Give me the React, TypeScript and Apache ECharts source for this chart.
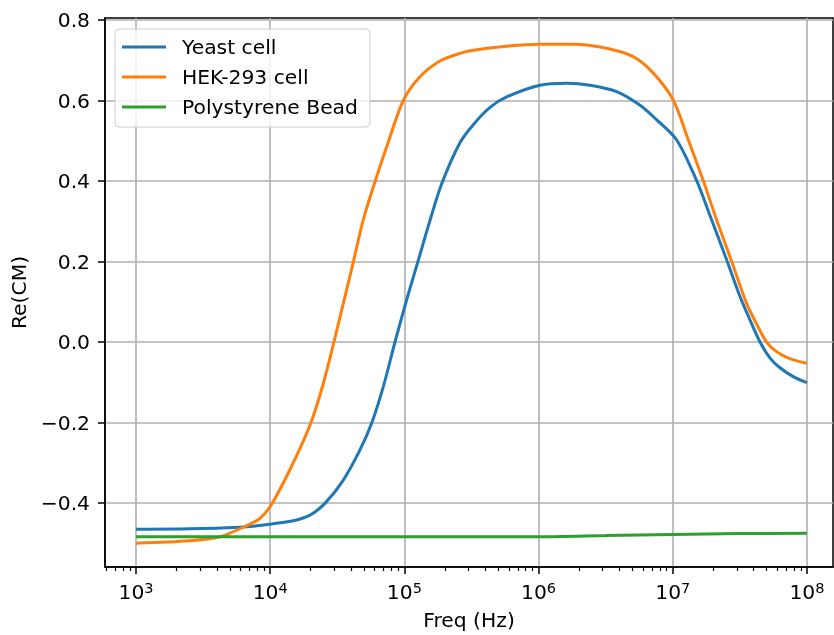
import React, { useEffect, useRef } from "react";
import * as echarts from "echarts";

// log10 of frequency (Hz) and Re(CM) values
const yeastLogF = [3.0, 3.402, 3.775, 3.924, 4.011, 4.172, 4.297, 4.408, 4.545, 4.669, 4.756, 4.843, 4.93, 5.017, 5.101, 5.189, 5.278, 5.414, 5.513, 5.638, 5.762, 6.01, 6.209, 6.383, 6.582, 6.756, 6.88, 7.029, 7.178, 7.29, 7.406, 7.501, 7.575, 7.65, 7.725, 7.799, 7.898, 8.0];
const yeastRe = [-0.465, -0.464, -0.46, -0.456, -0.452, -0.444, -0.43, -0.401, -0.343, -0.268, -0.202, -0.111, 0.0, 0.105, 0.2, 0.3, 0.393, 0.495, 0.54, 0.583, 0.609, 0.638, 0.643, 0.638, 0.622, 0.588, 0.552, 0.502, 0.401, 0.303, 0.2, 0.113, 0.055, 0.0, -0.04, -0.064, -0.086, -0.101];

const hekLogF = [3.0, 3.402, 3.626, 3.825, 3.924, 4.011, 4.172, 4.302, 4.396, 4.475, 4.545, 4.619, 4.693, 4.781, 4.868, 4.992, 5.116, 5.265, 5.414, 5.513, 5.762, 6.01, 6.258, 6.507, 6.705, 6.855, 7.004, 7.116, 7.227, 7.327, 7.439, 7.55, 7.624, 7.699, 7.774, 7.849, 7.925, 8.0];
const hekRe = [-0.5, -0.494, -0.484, -0.456, -0.438, -0.403, -0.3, -0.202, -0.103, 0.0, 0.096, 0.198, 0.303, 0.398, 0.485, 0.6, 0.659, 0.698, 0.717, 0.725, 0.735, 0.74, 0.74, 0.73, 0.709, 0.668, 0.601, 0.502, 0.401, 0.303, 0.2, 0.096, 0.045, 0.0, -0.024, -0.038, -0.047, -0.053];

const beadLogF = [3.0, 4.0, 5.0, 6.0, 6.5, 7.0, 7.5, 8.0];
const beadRe = [-0.484, -0.484, -0.484, -0.484, -0.481, -0.478, -0.476, -0.475];

const seriesNames = ["Yeast cell", "HEK-293 cell", "Polystyrene Bead"];
const seriesColors = ["#1f77b4", "#ff7f0e", "#2ca02c"];

const xMajorExp = [3, 4, 5, 6, 7, 8];
const yTicks = [-0.4, -0.2, 0.0, 0.2, 0.4, 0.6, 0.8];
const xMin = 2.769;
const xMax = 8.194;
const yMin = -0.559;
const yMax = 0.805;

const FONT = "DejaVu Sans";
const FS = 20.3;

export default function App() {
  const ref = useRef<HTMLDivElement>(null);
  useEffect(() => {
    if (!ref.current) return;
    const chart = echarts.init(ref.current, undefined, { renderer: "svg" });
    const minor: number[] = [];
    for (let d = 2; d <= 8; d++) {
      for (let k = 2; k <= 9; k++) {
        const v = Math.log10(k * Math.pow(10, d));
        if (v > xMin && v < xMax) minor.push(v);
      }
    }
    const zip = (xs: number[], ys: number[]) => xs.map((x, i) => [x, ys[i]]);
    const datasets = [zip(yeastLogF, yeastRe), zip(hekLogF, hekRe), zip(beadLogF, beadRe)];
    chart.setOption({
      animation: false,
      textStyle: { fontFamily: FONT },
      grid: {
        left: 105,
        top: 18,
        right: 1,
        bottom: 68,
        show: true,
        borderColor: "#000",
        borderWidth: 1.5,
        containLabel: false,
        outerBoundsMode: "none",
      },
      legend: {
        orient: "vertical",
        left: 115,
        top: 29,
        padding: [8, 12, 10, 7],
        itemGap: 10,
        itemWidth: 44,
        itemHeight: 3,
        icon: "rect",
        backgroundColor: "rgba(255,255,255,0.8)",
        borderColor: "#cccccc",
        borderWidth: 1,
        borderRadius: 4,
        textStyle: { fontFamily: FONT, fontSize: FS, color: "#000", lineHeight: 20, padding: [0, 0, 0, 11] },
        data: seriesNames,
      },
      xAxis: [
        {
          type: "value",
          min: xMin,
          max: xMax,
          name: "Freq (Hz)",
          nameLocation: "middle",
          nameGap: 43,
          nameTextStyle: { fontFamily: FONT, fontSize: FS, color: "#000" },
          axisLine: { show: true, onZero: false, lineStyle: { color: "#000", width: 1.5 } },
          axisTick: { show: true, length: 7, customValues: xMajorExp, lineStyle: { color: "#000", width: 1.5 } },
          axisLabel: {
            customValues: xMajorExp,
            margin: 13,
            color: "#000",
            formatter: (v: number) => `{b|10}{s|${Math.round(v)}}`,
            rich: {
              b: { fontFamily: FONT, fontSize: FS, lineHeight: 24, color: "#000" },
              s: { fontFamily: FONT, fontSize: 14.5, lineHeight: 14, verticalAlign: "top", color: "#000" },
            },
          },
          splitLine: { show: true, lineStyle: { color: "#b0b0b0", width: 1.6 } },
        },
        {
          type: "value",
          min: xMin,
          max: xMax,
          position: "bottom",
          axisLine: { show: false, onZero: false },
          axisLabel: { show: false },
          splitLine: { show: false },
          axisTick: { show: true, length: 4, customValues: minor, lineStyle: { color: "#000", width: 1.2 } },
        },
      ],
      yAxis: {
        type: "value",
        min: yMin,
        max: yMax,
        name: "Re(CM)",
        nameLocation: "middle",
        nameGap: 76,
        nameTextStyle: { fontFamily: FONT, fontSize: FS, color: "#000" },
        axisLine: { show: true, onZero: false, lineStyle: { color: "#000", width: 1.5 } },
        axisTick: { show: true, length: 7, customValues: yTicks, lineStyle: { color: "#000", width: 1.5 } },
        axisLabel: {
          customValues: yTicks,
          margin: 15,
          color: "#000",
          fontFamily: FONT,
          fontSize: FS,
          formatter: (v: number) => (v < 0 ? "\u2212" + Math.abs(v).toFixed(1) : v.toFixed(1)),
        },
        splitLine: { show: true, lineStyle: { color: "#b0b0b0", width: 1.6 } },
      },
      series: seriesNames.map((name, i) => ({
        name,
        type: "line",
        xAxisIndex: 0,
        data: datasets[i],
        showSymbol: false,
        symbol: "none",
        smooth: 0.3,
        color: seriesColors[i],
        lineStyle: { color: seriesColors[i], width: 3 },
        z: 2 + i,
      })),
    });
    return () => chart.dispose();
  }, []);
  return <div ref={ref} style={{ position: "fixed", left: 0, top: 0, width: 834, height: 635 }} />;
}
